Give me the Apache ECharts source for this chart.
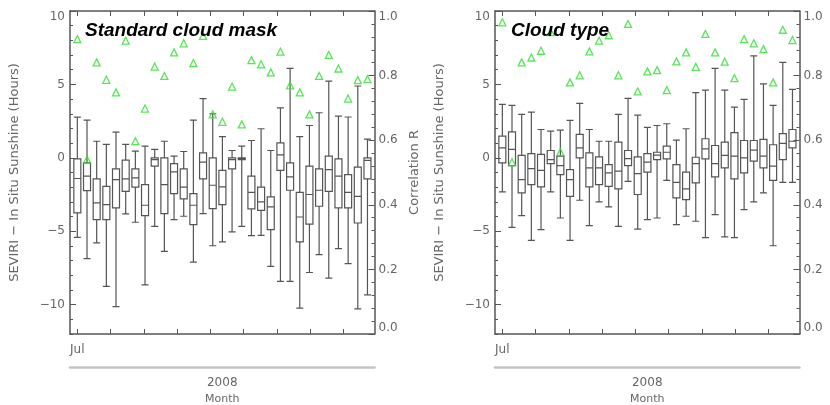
<!DOCTYPE html>
<html>
<head>
<meta charset="utf-8">
<script src="https://cdn.jsdelivr.net/npm/echarts@6/dist/echarts.min.js"></script>
<style>
  html, body { margin: 0; padding: 0; background: #fff; }
  #chart { width: 830px; height: 405px; }
</style>
</head>
<body>
<div id="chart"></div>
<script>
// periods along the x axis (one box each), months ticked from Jul 2008
const periods = Array.from({ length: 31 }, (_, i) => 'P' + (i + 1));
const monthTicks = [0, 1, 2, 3, 4, 5, 6, 7, 8];
const monthLabels = ['Jul'];
const yearLabel = '2008';
const leftMajorTicks = [-10, -5, 0, 5, 10];

// [min, Q1, median, Q3, max] of SEVIRI - in situ sunshine (hours)
const maskBoxes = [
  [-5.42, -3.75, -1.41, -0.07, 2.77],
  [-6.87, -2.23, -1.25, -0.34, 2.57],
  [-5.8, -4.21, -3.07, -1.43, 1.13],
  [-8.76, -4.21, -3.19, -1.94, 0.91],
  [-10.13, -3.41, -1.48, -0.75, 1.75],
  [-3.82, -2.28, -1.43, -0.16, 0.91],
  [-4.39, -2.0, -1.37, -0.75, 0.45],
  [-8.65, -3.94, -3.23, -1.82, 0.79],
  [-4.67, -0.57, -0.12, 0.0, 0.57],
  [-6.37, -3.8, -1.82, 0.0, 1.13],
  [-4.21, -2.44, -0.96, -0.39, 0.11],
  [-3.98, -2.8, -2.0, -0.75, 0.43],
  [-7.1, -4.55, -3.23, -2.44, 2.57],
  [-3.8, -1.43, -0.3, 0.34, 4.03],
  [-5.99, -3.46, -1.87, 0.0, 3.0],
  [-5.73, -3.19, -1.98, -0.85, 1.45],
  [-5.05, -0.75, -0.12, 0.0, 0.5],
  [-4.67, -0.12, -0.05, 0.0, 0.8],
  [-5.3, -3.48, -2.35, -1.25, 1.18],
  [-5.28, -3.58, -3.0, -2.0, 1.98],
  [-7.4, -4.89, -3.34, -2.66, 0.5],
  [-8.42, -0.85, 0.2, 1.02, 3.4],
  [-8.42, -2.21, -1.3, -0.34, 6.09],
  [-10.24, -5.73, -4.03, -2.35, 1.45],
  [-7.81, -4.51, -2.5, -0.57, 2.2],
  [-6.6, -3.3, -2.21, -0.75, 3.07],
  [-8.19, -2.28, -0.8, 0.11, 5.23],
  [-6.19, -3.41, -1.25, -0.07, 2.84],
  [-7.21, -3.41, -2.35, -1.14, 2.78],
  [-10.29, -4.44, -2.62, -0.64, 4.89],
  [-9.33, -1.43, -0.18, 0.0, 1.27]
];
const maskCorr = [0.913, 0.540, 0.841, 0.787, 0.748, 0.908, 0.597, 0.698, 0.828, 0.799,
  0.872, 0.900, 0.839, 0.923, 0.680, 0.657, 0.766, 0.649, 0.848, 0.835,
  0.810, 0.874, 0.770, 0.748, 0.680, 0.799, 0.864, 0.822, 0.729, 0.786, 0.789];

const typeBoxes = [
  [-2.32, -0.34, 0.68, 1.48, 3.64],
  [-4.74, -0.53, 0.57, 1.77, 3.57],
  [-3.94, -2.39, -1.48, 0.16, 2.96],
  [-5.62, -1.82, -0.73, 0.29, 3.11],
  [-4.89, -1.98, -0.85, 0.23, 1.93],
  [-2.32, -0.39, -0.12, 0.5, 1.82],
  [-4.1, -1.14, -0.53, 0.11, 1.88],
  [-5.62, -2.62, -1.48, -0.8, 2.55],
  [-2.89, 0.0, 0.68, 1.59, 3.71],
  [-4.62, -1.98, -0.68, 0.34, 1.93],
  [-3.0, -1.82, -0.68, 0.07, 1.13],
  [-3.34, -1.94, -1.02, -0.46, 1.13],
  [-4.67, -2.12, -0.91, 1.07, 2.96],
  [-1.6, -0.53, -0.05, 0.5, 4.05],
  [-4.85, -2.5, -1.07, 0.07, 2.91],
  [-4.21, -0.98, -0.3, 0.29, 2.07],
  [-4.1, -0.12, 0.18, 0.38, 2.2],
  [-1.53, -0.07, 0.38, 0.79, 2.32],
  [-4.55, -2.73, -1.67, -0.46, 1.2],
  [-3.98, -2.85, -2.12, -0.98, 1.98],
  [-4.32, -1.71, -0.39, 0.04, 4.44],
  [-5.44, -0.07, 0.61, 1.3, 4.61],
  [-3.87, -1.3, -0.39, 0.84, 6.09],
  [-5.39, -0.68, 0.16, 1.07, 4.61],
  [-5.44, -1.43, 0.11, 1.71, 3.45],
  [-3.53, -1.02, 0.0, 1.18, 3.98],
  [-3.0, -0.23, 0.52, 1.18, 6.94],
  [-2.39, -0.68, 0.11, 1.25, 5.03],
  [-5.99, -1.53, -0.57, 0.89, 3.57],
  [-1.67, -0.12, 0.98, 1.65, 6.5],
  [-1.67, 0.68, 1.13, 1.93, 4.66]
];
const typeCorr = [0.965, 0.532, 0.841, 0.856, 0.877, 0.935, 0.563, 0.779, 0.801, 0.875,
  0.908, 0.925, 0.801, 0.960, 0.751, 0.813, 0.817, 0.755, 0.844, 0.872,
  0.827, 0.929, 0.872, 0.843, 0.792, 0.913, 0.900, 0.882, 0.779, 0.942, 0.910];

const labelColor = '#666';
const lineColor = '#555';
const font = 'DejaVu Sans';

const fmtLeft = v => (v % 5 === 0 ? (v < 0 ? '\u2212' + (-v) : String(v)) : '');

// frame grids carry the visible axes, data grids hold the boxes
const frameLeft = [70, 495];
const dataLeft = [72.5, 497.5];

const grid = [], xAxis = [], yAxis = [], series = [];
[[maskBoxes, maskCorr], [typeBoxes, typeCorr]].forEach(([boxes, corr], p) => {
  const fg = p * 2, dg = p * 2 + 1;
  grid.push({ left: frameLeft[p], width: 304.5, top: 11, height: 323, outerBoundsMode: 'none' });
  grid.push({ left: dataLeft[p], width: 299.8, top: 11, height: 323, outerBoundsMode: 'none' });

  const xs = xAxis.length;
  const monthAxis = (position, showLabel) => ({
    type: 'value', gridIndex: fg, position: position, min: -0.22, max: 8.94,
    axisLine: { onZero: false, lineStyle: { color: lineColor, width: 1.5 } },
    axisTick: { inside: true, length: 5, customValues: monthTicks, lineStyle: { color: lineColor } },
    axisLabel: {
      show: showLabel, customValues: [0], margin: 10,
      formatter: v => monthLabels[monthTicks.indexOf(v)] || '',
      color: labelColor, fontFamily: font, fontSize: 12
    },
    splitLine: { show: false }
  });
  xAxis.push(monthAxis('bottom', true));
  xAxis.push(monthAxis('top', false));
  xAxis.push({
    type: 'value', gridIndex: fg, position: 'bottom', offset: 33, min: 0, max: 1,
    axisLine: { onZero: false, lineStyle: { color: '#c4c4c4', width: 2.5 } },
    axisTick: { show: false }, axisLabel: { show: false }, splitLine: { show: false },
    name: '{a|' + yearLabel + '}\n{b|Month}', nameLocation: 'middle', nameGap: 8,
    nameTextStyle: {
      rich: {
        a: { color: labelColor, fontFamily: font, fontSize: 12, lineHeight: 16 },
        b: { color: labelColor, fontFamily: font, fontSize: 11, lineHeight: 16 }
      }
    }
  });
  xAxis.push({ type: 'category', gridIndex: dg, data: periods, show: false });

  const ys = yAxis.length;
  yAxis.push({
    type: 'value', gridIndex: fg, position: 'left', min: -12, max: 10, interval: 1,
    axisLine: { show: true, onZero: false, lineStyle: { color: lineColor, width: 1.5 } },
    axisTick: { show: true, inside: true, length: 3, lineStyle: { color: lineColor } },
    axisLabel: {
      formatter: fmtLeft, margin: 5, color: labelColor, fontFamily: font, fontSize: 12,
      verticalAlignMaxLabel: 'top'
    },
    splitLine: { show: false },
    name: 'SEVIRI \u2212 In Situ Sunshine (Hours)', nameLocation: 'middle', nameGap: 49, nameRotate: 90,
    nameTextStyle: { color: labelColor, fontFamily: font, fontSize: 13 }
  });
  yAxis.push({
    type: 'value', gridIndex: fg, position: 'left', min: -12, max: 10,
    axisLine: { show: false, onZero: false },
    axisTick: { show: true, inside: true, length: 6, customValues: leftMajorTicks, lineStyle: { color: lineColor } },
    axisLabel: { show: false }, splitLine: { show: false }
  });
  yAxis.push({
    type: 'value', gridIndex: fg, position: 'right', min: 0, max: 1, interval: 0.2,
    axisLine: { show: true, onZero: false, lineStyle: { color: lineColor, width: 1.5 } },
    axisTick: { show: true, inside: true, length: 6, lineStyle: { color: lineColor } },
    minorTick: { show: true, splitNumber: 5, length: 3, lineStyle: { color: lineColor } },
    axisLabel: {
      formatter: v => v.toFixed(1), margin: 4, color: labelColor, fontFamily: font, fontSize: 12,
      verticalAlignMaxLabel: 'top', verticalAlignMinLabel: 'bottom'
    },
    splitLine: { show: false },
    name: 'Correlation R', nameLocation: 'middle', nameGap: 34, nameRotate: 90,
    nameTextStyle: { color: labelColor, fontFamily: font, fontSize: 13 }
  });
  yAxis.push({ type: 'value', gridIndex: dg, min: -12, max: 10, show: false });
  yAxis.push({ type: 'value', gridIndex: dg, min: 0, max: 1, show: false });

  series.push({
    type: 'boxplot', xAxisIndex: xs + 3, yAxisIndex: ys + 3,
    data: boxes, boxWidth: [7, 7],
    itemStyle: { color: 'rgba(255,255,255,0)', borderColor: lineColor, borderWidth: 1.2 },
    emphasis: { disabled: true }
  });
  series.push({
    type: 'scatter', xAxisIndex: xs + 3, yAxisIndex: ys + 4, z: 5,
    data: corr, symbol: 'triangle', symbolSize: 7,
    itemStyle: { color: 'rgba(255,255,255,0)', borderColor: '#2ee02e', borderWidth: 1.3 }
  });
});

const titleStyle = { fontFamily: 'Liberation Sans', fontStyle: 'italic', fontWeight: 'bold', fontSize: 19, color: '#000' };

const myChart = echarts.init(document.getElementById('chart'));
myChart.setOption({
  animation: false,
  title: [
    { text: 'Standard cloud mask', left: 85, top: 21, padding: 0, textStyle: titleStyle },
    { text: 'Cloud type', left: 511, top: 21, padding: 0, textStyle: titleStyle }
  ],
  grid: grid,
  xAxis: xAxis,
  yAxis: yAxis,
  series: series
});
</script>
</body>
</html>
